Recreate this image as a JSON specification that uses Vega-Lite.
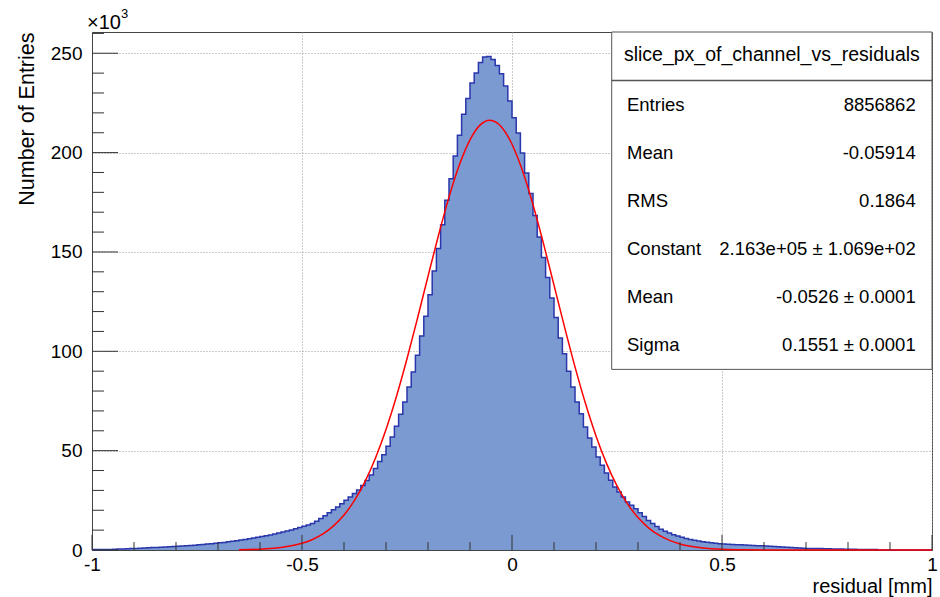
{
  "$schema": "https://vega.github.io/schema/vega-lite/v6.json",
  "width": 840,
  "height": 518,
  "autosize": {"type": "none"},
  "padding": {"left": 92, "top": 32, "right": 8, "bottom": 47},
  "background": "white",
  "config": {
    "font": "Liberation Sans",
    "view": {"stroke": "#444", "strokeWidth": 1},
    "axis": {"domainColor": "#444", "gridColor": "#999", "gridDash": [1, 2], "labelColor": "black", "titleColor": "black", "titleFontWeight": "normal", "labelFont": "Liberation Sans", "titleFont": "Liberation Sans", "labelOverlap": false, "ticks": false}
  },
  "datasets": {
    "hist": [
      {"x": -1, "n": 0.2}, {"x": -0.99, "n": 0.2}, {"x": -0.98, "n": 0.3}, {"x": -0.97, "n": 0.3}, {"x": -0.96, "n": 0.3},
      {"x": -0.95, "n": 0.4}, {"x": -0.94, "n": 0.5}, {"x": -0.93, "n": 0.5}, {"x": -0.92, "n": 0.6}, {"x": -0.91, "n": 0.7},
      {"x": -0.9, "n": 0.8}, {"x": -0.89, "n": 0.9}, {"x": -0.88, "n": 1.0}, {"x": -0.87, "n": 1.1}, {"x": -0.86, "n": 1.2},
      {"x": -0.85, "n": 1.3}, {"x": -0.84, "n": 1.4}, {"x": -0.83, "n": 1.5}, {"x": -0.82, "n": 1.6}, {"x": -0.81, "n": 1.8},
      {"x": -0.8, "n": 1.9}, {"x": -0.79, "n": 2.0}, {"x": -0.78, "n": 2.1}, {"x": -0.77, "n": 2.3}, {"x": -0.76, "n": 2.4},
      {"x": -0.75, "n": 2.6}, {"x": -0.74, "n": 2.8}, {"x": -0.73, "n": 3.0}, {"x": -0.72, "n": 3.2}, {"x": -0.71, "n": 3.4},
      {"x": -0.7, "n": 3.6}, {"x": -0.69, "n": 3.8}, {"x": -0.68, "n": 4.1}, {"x": -0.67, "n": 4.4}, {"x": -0.66, "n": 4.7},
      {"x": -0.65, "n": 5.0}, {"x": -0.64, "n": 5.3}, {"x": -0.63, "n": 5.6}, {"x": -0.62, "n": 6.0}, {"x": -0.61, "n": 6.4},
      {"x": -0.6, "n": 6.8}, {"x": -0.59, "n": 7.2}, {"x": -0.58, "n": 7.6}, {"x": -0.57, "n": 8.0}, {"x": -0.56, "n": 8.5},
      {"x": -0.55, "n": 9.0}, {"x": -0.54, "n": 9.5}, {"x": -0.53, "n": 10.1}, {"x": -0.52, "n": 10.7}, {"x": -0.51, "n": 11.3},
      {"x": -0.5, "n": 11.9}, {"x": -0.49, "n": 12.6}, {"x": -0.48, "n": 13.4}, {"x": -0.47, "n": 14.5}, {"x": -0.46, "n": 15.8},
      {"x": -0.45, "n": 17.2}, {"x": -0.44, "n": 18.7}, {"x": -0.43, "n": 20.2}, {"x": -0.42, "n": 21.7}, {"x": -0.41, "n": 23.3},
      {"x": -0.4, "n": 25.0}, {"x": -0.39, "n": 26.7}, {"x": -0.38, "n": 28.4}, {"x": -0.37, "n": 30.2}, {"x": -0.36, "n": 32.4},
      {"x": -0.35, "n": 35.0}, {"x": -0.34, "n": 37.8}, {"x": -0.33, "n": 41.0}, {"x": -0.32, "n": 44.5}, {"x": -0.31, "n": 48.0},
      {"x": -0.3, "n": 52.2}, {"x": -0.29, "n": 56.9}, {"x": -0.28, "n": 62.3}, {"x": -0.27, "n": 68.3}, {"x": -0.26, "n": 74.5},
      {"x": -0.25, "n": 82.0}, {"x": -0.24, "n": 89.6}, {"x": -0.23, "n": 98.0}, {"x": -0.22, "n": 107.7}, {"x": -0.21, "n": 117.6},
      {"x": -0.2, "n": 128.5}, {"x": -0.19, "n": 140.4}, {"x": -0.18, "n": 151.7}, {"x": -0.17, "n": 163.7}, {"x": -0.16, "n": 176.0},
      {"x": -0.15, "n": 186.9}, {"x": -0.14, "n": 198.3}, {"x": -0.13, "n": 208.7}, {"x": -0.12, "n": 219.3}, {"x": -0.11, "n": 227.2},
      {"x": -0.1, "n": 235.0}, {"x": -0.09, "n": 240.1}, {"x": -0.08, "n": 245.4}, {"x": -0.07, "n": 248.1}, {"x": -0.06, "n": 248.4},
      {"x": -0.05, "n": 246.8}, {"x": -0.04, "n": 243.9}, {"x": -0.03, "n": 239.7}, {"x": -0.02, "n": 233.5}, {"x": -0.01, "n": 226.0},
      {"x": 0, "n": 217.6}, {"x": 0.01, "n": 209.9}, {"x": 0.02, "n": 199.8}, {"x": 0.03, "n": 189.7}, {"x": 0.04, "n": 179.4},
      {"x": 0.05, "n": 168.4}, {"x": 0.06, "n": 157.5}, {"x": 0.07, "n": 147.2}, {"x": 0.08, "n": 137.1}, {"x": 0.09, "n": 126.8},
      {"x": 0.1, "n": 117.0}, {"x": 0.11, "n": 106.7}, {"x": 0.12, "n": 98.8}, {"x": 0.13, "n": 89.9}, {"x": 0.14, "n": 82.0},
      {"x": 0.15, "n": 74.5}, {"x": 0.16, "n": 68.6}, {"x": 0.17, "n": 61.9}, {"x": 0.18, "n": 56.4}, {"x": 0.19, "n": 51.8},
      {"x": 0.2, "n": 46.8}, {"x": 0.21, "n": 42.6}, {"x": 0.22, "n": 38.8}, {"x": 0.23, "n": 35.1}, {"x": 0.24, "n": 31.7},
      {"x": 0.25, "n": 29.2}, {"x": 0.26, "n": 26.7}, {"x": 0.27, "n": 24.2}, {"x": 0.28, "n": 22.5}, {"x": 0.29, "n": 20.8},
      {"x": 0.3, "n": 18.8}, {"x": 0.31, "n": 16.8}, {"x": 0.32, "n": 14.9}, {"x": 0.33, "n": 13.3}, {"x": 0.34, "n": 11.8},
      {"x": 0.35, "n": 10.5}, {"x": 0.36, "n": 9.4}, {"x": 0.37, "n": 8.5}, {"x": 0.38, "n": 7.7}, {"x": 0.39, "n": 7.0},
      {"x": 0.4, "n": 6.4}, {"x": 0.41, "n": 5.8}, {"x": 0.42, "n": 5.3}, {"x": 0.43, "n": 4.9}, {"x": 0.44, "n": 4.5},
      {"x": 0.45, "n": 4.2}, {"x": 0.46, "n": 3.9}, {"x": 0.47, "n": 3.6}, {"x": 0.48, "n": 3.4}, {"x": 0.49, "n": 3.2},
      {"x": 0.5, "n": 3.0}, {"x": 0.51, "n": 2.9}, {"x": 0.52, "n": 2.8}, {"x": 0.53, "n": 2.7}, {"x": 0.54, "n": 2.6},
      {"x": 0.55, "n": 2.5}, {"x": 0.56, "n": 2.4}, {"x": 0.57, "n": 2.3}, {"x": 0.58, "n": 2.2}, {"x": 0.59, "n": 2.1},
      {"x": 0.6, "n": 2.0}, {"x": 0.61, "n": 1.9}, {"x": 0.62, "n": 1.8}, {"x": 0.63, "n": 1.6}, {"x": 0.64, "n": 1.5},
      {"x": 0.65, "n": 1.4}, {"x": 0.66, "n": 1.2}, {"x": 0.67, "n": 1.1}, {"x": 0.68, "n": 1.0}, {"x": 0.69, "n": 0.9},
      {"x": 0.7, "n": 0.8}, {"x": 0.71, "n": 0.8}, {"x": 0.72, "n": 0.7}, {"x": 0.73, "n": 0.7}, {"x": 0.74, "n": 0.6},
      {"x": 0.75, "n": 0.6}, {"x": 0.76, "n": 0.5}, {"x": 0.77, "n": 0.5}, {"x": 0.78, "n": 0.5}, {"x": 0.79, "n": 0.4},
      {"x": 0.8, "n": 0.4}, {"x": 0.81, "n": 0.4}, {"x": 0.82, "n": 0.3}, {"x": 0.83, "n": 0.3}, {"x": 0.84, "n": 0.3},
      {"x": 0.85, "n": 0.3}, {"x": 0.86, "n": 0.3}, {"x": 0.87, "n": 0}, {"x": 0.88, "n": 0}, {"x": 0.89, "n": 0},
      {"x": 0.9, "n": 0}, {"x": 0.91, "n": 0}, {"x": 0.92, "n": 0}, {"x": 0.93, "n": 0}, {"x": 0.94, "n": 0},
      {"x": 0.95, "n": 0}, {"x": 0.96, "n": 0}, {"x": 0.97, "n": 0}, {"x": 0.98, "n": 0}, {"x": 0.99, "n": 0},
      {"x": 1, "n": 0}
    ],
    "fit": [
      {"x": -0.65, "f": 0.13}, {"x": -0.625, "f": 0.24}, {"x": -0.6, "f": 0.43}, {"x": -0.575, "f": 0.74},
      {"x": -0.55, "f": 1.26}, {"x": -0.525, "f": 2.09}, {"x": -0.5, "f": 3.38}, {"x": -0.475, "f": 5.3},
      {"x": -0.45, "f": 8.12}, {"x": -0.425, "f": 12.12}, {"x": -0.4, "f": 17.61}, {"x": -0.375, "f": 24.94},
      {"x": -0.35, "f": 34.41}, {"x": -0.325, "f": 46.27}, {"x": -0.3, "f": 60.61}, {"x": -0.275, "f": 77.36},
      {"x": -0.25, "f": 96.23}, {"x": -0.225, "f": 116.62}, {"x": -0.2, "f": 137.71}, {"x": -0.175, "f": 158.42},
      {"x": -0.15, "f": 177.59}, {"x": -0.125, "f": 193.97}, {"x": -0.1, "f": 206.43}, {"x": -0.075, "f": 214.06},
      {"x": -0.0526, "f": 216.3}, {"x": -0.025, "f": 212.9}, {"x": 0, "f": 204.21}, {"x": 0.025, "f": 190.85},
      {"x": 0.05, "f": 173.79}, {"x": 0.075, "f": 154.2}, {"x": 0.1, "f": 133.31}, {"x": 0.125, "f": 112.29},
      {"x": 0.15, "f": 92.16}, {"x": 0.175, "f": 73.7}, {"x": 0.2, "f": 57.43}, {"x": 0.225, "f": 43.6},
      {"x": 0.25, "f": 32.25}, {"x": 0.275, "f": 23.25}, {"x": 0.3, "f": 16.32}, {"x": 0.325, "f": 11.17},
      {"x": 0.35, "f": 7.45}, {"x": 0.375, "f": 4.84}, {"x": 0.4, "f": 3.06}, {"x": 0.425, "f": 1.89},
      {"x": 0.45, "f": 1.13}, {"x": 0.475, "f": 0.66}, {"x": 0.5, "f": 0.38}, {"x": 0.55, "f": 0.11},
      {"x": 0.6, "f": 0.03}, {"x": 0.7, "f": 0}, {"x": 0.8, "f": 0}, {"x": 0.9, "f": 0}, {"x": 1, "f": 0}
    ],
    "xminor": [{"v": -0.9}, {"v": -0.8}, {"v": -0.7}, {"v": -0.6}, {"v": -0.4}, {"v": -0.3}, {"v": -0.2}, {"v": -0.1}, {"v": 0.1}, {"v": 0.2}, {"v": 0.3}, {"v": 0.4}, {"v": 0.6}, {"v": 0.7}, {"v": 0.8}, {"v": 0.9}],
    "xmajor": [{"v": -1}, {"v": -0.5}, {"v": 0}, {"v": 0.5}, {"v": 1}],
    "yminor": [{"v": 10}, {"v": 20}, {"v": 30}, {"v": 40}, {"v": 60}, {"v": 70}, {"v": 80}, {"v": 90}, {"v": 110}, {"v": 120}, {"v": 130}, {"v": 140}, {"v": 160}, {"v": 170}, {"v": 180}, {"v": 190}, {"v": 210}, {"v": 220}, {"v": 230}, {"v": 240}, {"v": 260}],
    "ymajor": [{"v": 0}, {"v": 50}, {"v": 100}, {"v": 150}, {"v": 200}, {"v": 250}],
    "box": [{"x1": 0.2374, "x2": 1, "y1": 90.9, "y2": 260.7, "ys": 236.3}],
    "stats": [
      {"name": "Entries", "value": "8856862", "y": 224.0},
      {"name": "Mean", "value": "-0.05914", "y": 199.8},
      {"name": "RMS", "value": "0.1864", "y": 175.6},
      {"name": "Constant", "value": "2.163e+05 ± 1.069e+02", "y": 151.4},
      {"name": "Mean", "value": "-0.0526 ± 0.0001", "y": 127.3},
      {"name": "Sigma", "value": "0.1551 ± 0.0001", "y": 103.1}
    ],
    "title": [{"text": "slice_px_of_channel_vs_residuals", "x": 0.6187, "y": 249.3}],
    "mult": [{"text": "×10", "sup": "3", "x": -1, "y": 260.7}]
  },
  "layer": [
    {
      "data": {"name": "hist"},
      "mark": {"type": "area", "interpolate": "step-after", "color": "#7b9ad1"},
      "encoding": {
        "x": {
          "field": "x", "type": "quantitative",
          "scale": {"domain": [-1, 1], "nice": false, "zero": false},
          "axis": {
            "values": [-1, -0.5, 0, 0.5, 1],
            "title": "residual [mm]", "titleAnchor": "end", "titleFontSize": 20, "titlePadding": 2,
            "labelFontSize": 19, "labelPadding": 5, "labelFlush": false, "labelOverlap": false,
            "labelExpr": "datum.value < 0 ? '-' + abs(datum.value) : '' + datum.value"
          }
        },
        "y": {
          "field": "n", "type": "quantitative",
          "scale": {"domain": [0, 260.7], "nice": false},
          "axis": {
            "values": [0, 50, 100, 150, 200, 250],
            "title": "Number of Entries", "titleAnchor": "end", "titleFontSize": 21.5, "titlePadding": 12,
            "labelFontSize": 19, "labelPadding": 10, "labelFlush": false, "labelOverlap": false
          }
        }
      }
    },
    {
      "data": {"name": "hist"},
      "mark": {"type": "line", "interpolate": "step-after", "color": "#2a36ab", "strokeWidth": 1.5},
      "encoding": {"x": {"field": "x", "type": "quantitative"}, "y": {"field": "n", "type": "quantitative"}}
    },
    {
      "data": {"name": "fit"},
      "mark": {"type": "line", "interpolate": "monotone", "color": "#ff0000", "strokeWidth": 1.5},
      "encoding": {"x": {"field": "x", "type": "quantitative"}, "y": {"field": "f", "type": "quantitative"}}
    },
    {
      "data": {"name": "xminor"},
      "mark": {"type": "rule", "color": "#333", "strokeWidth": 1},
      "encoding": {"x": {"field": "v", "type": "quantitative"}, "y": {"datum": 0, "type": "quantitative"}, "y2": {"datum": 4.0}}
    },
    {
      "data": {"name": "xmajor"},
      "mark": {"type": "rule", "color": "#333", "strokeWidth": 1},
      "encoding": {"x": {"field": "v", "type": "quantitative"}, "y": {"datum": 0, "type": "quantitative"}, "y2": {"datum": 7.6}}
    },
    {
      "data": {"name": "yminor"},
      "mark": {"type": "rule", "color": "#333", "strokeWidth": 1},
      "encoding": {"y": {"field": "v", "type": "quantitative"}, "x": {"datum": -1, "type": "quantitative"}, "x2": {"datum": -0.9714}}
    },
    {
      "data": {"name": "ymajor"},
      "mark": {"type": "rule", "color": "#333", "strokeWidth": 1},
      "encoding": {"y": {"field": "v", "type": "quantitative"}, "x": {"datum": -1, "type": "quantitative"}, "x2": {"datum": -0.938}}
    },
    {
      "data": {"name": "box"},
      "mark": {"type": "rect", "fill": "white", "stroke": "#555", "strokeWidth": 1},
      "encoding": {"x": {"field": "x1", "type": "quantitative"}, "x2": {"field": "x2"}, "y": {"field": "y1", "type": "quantitative"}, "y2": {"field": "y2"}}
    },
    {
      "data": {"name": "box"},
      "mark": {"type": "rule", "stroke": "#555", "strokeWidth": 1.5},
      "encoding": {"x": {"field": "x1", "type": "quantitative"}, "x2": {"field": "x2"}, "y": {"field": "ys", "type": "quantitative"}}
    },
    {
      "data": {"name": "title"},
      "mark": {"type": "text", "align": "center", "baseline": "middle", "fontSize": 19.5, "font": "Liberation Sans", "color": "black"},
      "encoding": {"x": {"field": "x", "type": "quantitative"}, "y": {"field": "y", "type": "quantitative"}, "text": {"field": "text"}}
    },
    {
      "data": {"name": "stats"},
      "mark": {"type": "text", "align": "left", "baseline": "middle", "fontSize": 18.5, "font": "Liberation Sans", "color": "black"},
      "encoding": {"x": {"datum": 0.2738, "type": "quantitative"}, "y": {"field": "y", "type": "quantitative"}, "text": {"field": "name"}}
    },
    {
      "data": {"name": "stats"},
      "mark": {"type": "text", "align": "right", "baseline": "middle", "fontSize": 18.5, "font": "Liberation Sans", "color": "black"},
      "encoding": {"x": {"datum": 0.9612, "type": "quantitative"}, "y": {"field": "y", "type": "quantitative"}, "text": {"field": "value"}}
    },
    {
      "data": {"name": "mult"},
      "mark": {"type": "text", "align": "left", "baseline": "alphabetic", "fontSize": 20, "font": "Liberation Sans", "color": "black", "dx": -5, "dy": -3},
      "encoding": {"x": {"field": "x", "type": "quantitative"}, "y": {"field": "y", "type": "quantitative"}, "text": {"field": "text"}}
    },
    {
      "data": {"name": "mult"},
      "mark": {"type": "text", "align": "left", "baseline": "alphabetic", "fontSize": 13, "font": "Liberation Sans", "color": "black", "dx": 29, "dy": -14},
      "encoding": {"x": {"field": "x", "type": "quantitative"}, "y": {"field": "y", "type": "quantitative"}, "text": {"field": "sup"}}
    }
  ]
}
